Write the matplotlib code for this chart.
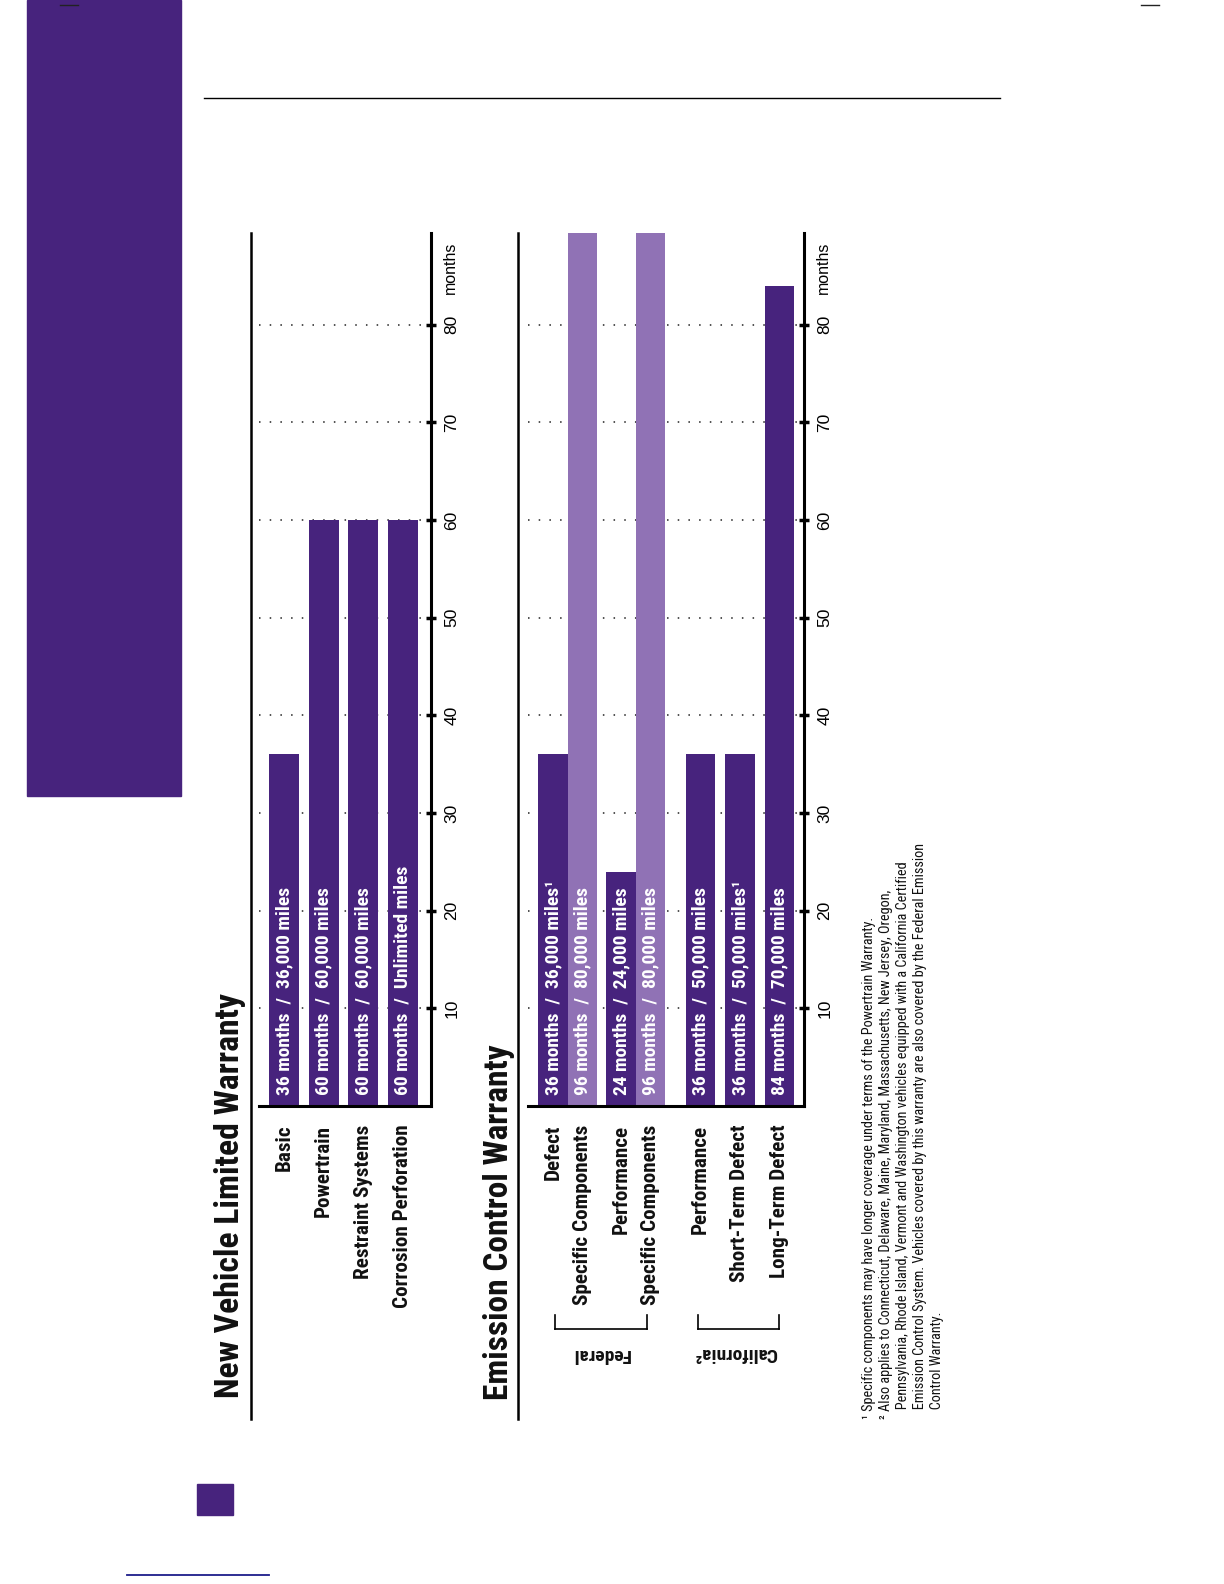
import matplotlib
matplotlib.use("Agg")
import matplotlib.pyplot as plt
from matplotlib.lines import Line2D
from matplotlib.patches import Rectangle

COND = ['Roboto Condensed', 'Archivo Narrow', 'DejaVu Sans']
plt.rcParams['font.family'] = COND

W, H = 1224, 1584
dark = "#47237d"
light = "#9072b5"

# --- data ---
nv_cats = ["Basic", "Powertrain", "Restraint Systems", "Corrosion Perforation"]
nv_months = [36, 60, 60, 60]
nv_labels = ["36 months  /  36,000 miles", "60 months  /  60,000 miles",
             "60 months  /  60,000 miles", "60 months  /  Unlimited miles"]

em_cats = ["Defect", "Specific Components", "Performance", "Specific Components",
           "Performance", "Short-Term Defect", "Long-Term Defect"]
em_months = [36, 96, 24, 96, 36, 36, 84]
em_labels = ["36 months  /  36,000 miles\u00b9", "96 months  /  80,000 miles",
             "24 months  /  24,000 miles", "96 months  /  80,000 miles",
             "36 months  /  50,000 miles", "36 months  /  50,000 miles\u00b9",
             "84 months  /  70,000 miles"]
em_light = [False, True, False, True, False, False, False]

ticks = [10, 20, 30, 40, 50, 60, 70, 80]

footnotes = [
    "\u00b9 Specific components may have longer coverage under terms of the Powertrain Warranty.",
    "\u00b2 Also applies to Connecticut, Delaware, Maine, Maryland, Massachusetts, New Jersey, Oregon,",
    "   Pennsylvania, Rhode Island, Vermont and Washington vehicles equipped with a California Certified",
    "   Emission Control System. Vehicles covered by this warranty are also covered by the Federal Emission",
    "   Control Warranty.",
]

# layout (bar slots)
nv_pos = [0, 1, 2, 3]
em_pos = [0, 1, 2.3, 3.3, 5.0, 6.33, 7.67]

fig = plt.figure(figsize=(W / 100, H / 100), dpi=100)


def fx(x):
    return x / W


def fy(y):
    return 1 - y / H


def make_axes(x0, x1, y0, y1):
    return fig.add_axes([fx(x0), fy(y1), fx(x1 - x0), (y1 - y0) / H])


def style_axes(ax, xlim):
    ax.set_xlim(*xlim)
    ax.set_ylim(0, 89.4)
    for s in ["left", "top"]:
        ax.spines[s].set_visible(False)
    ax.spines["right"].set_linewidth(2.2)
    ax.spines["bottom"].set_linewidth(2.2)
    ax.set_xticks([])
    ax.yaxis.tick_right()
    ax.set_yticks(ticks)
    ax.tick_params(axis="y", direction="inout", length=7, width=2.5,
                   labelrotation=90, labelsize=12.5, pad=6)
    for lb in ax.get_yticklabels():
        lb.set_family(["Liberation Sans", "DejaVu Sans"])
        lb.set_va("center")
    ax.yaxis.grid(True, linestyle=(0, (1, 6)), color="#222222", linewidth=1.1)
    ax.set_axisbelow(True)
    ax.annotate("months", xy=(1, 85.8), xycoords=("axes fraction", "data"),
                xytext=(14, 0), textcoords="offset points", rotation=90,
                ha="center", va="center", fontsize=11.5,
                family=["Liberation Sans", "DejaVu Sans"])


def draw_bars(ax, pos, vals, labels, cats, colors):
    ax.bar(pos, vals, width=1 if len(pos) > 4 else 0.758, color=colors, zorder=2)
    for p, lab, c in zip(pos, labels, cats):
        ax.text(p, 1.1, lab, rotation=90, ha="center", va="bottom",
                color="white", fontsize=14, fontweight="bold", zorder=3)
        ax.text(p, -1.9, c, rotation=90, ha="center", va="top",
                color="#111111", fontsize=15.2, fontweight="bold", clip_on=False)


# chart 1
ax1 = make_axes(259, 431, 233, 1106)
style_axes(ax1, (-0.631, 3.712))
draw_bars(ax1, nv_pos, nv_months, nv_labels, nv_cats, [dark] * 4)

# chart 2
ax2 = make_axes(528, 804, 233, 1106)
style_axes(ax2, (-0.85, 8.5))
draw_bars(ax2, em_pos, em_months, em_labels, em_cats,
          [light if l else dark for l in em_light])

# page decorations
fig.patches.append(Rectangle((fx(27), fy(796)), fx(154), 796 / H, color=dark,
                             transform=fig.transFigure, zorder=0))
fig.patches.append(Rectangle((fx(197), fy(1515)), fx(36), 31 / H, color=dark,
                             transform=fig.transFigure, zorder=0))


def hline(x0, x1, y, lw=1.0, color="black"):
    fig.add_artist(Line2D([fx(x0), fx(x1)], [fy(y), fy(y)], lw=lw, color=color))


def vline(x, y0, y1, lw=1.0, color="black"):
    fig.add_artist(Line2D([fx(x), fx(x)], [fy(y0), fy(y1)], lw=lw, color=color))


hline(204, 1000, 98, lw=1.0)
hline(60, 78, 5, lw=1.0, color="#222222")
hline(1141, 1159, 5, lw=1.0, color="#222222")
hline(127, 269, 1575, lw=1.3, color="#1c1c8a")

vline(251, 233, 1419, lw=1.8)
vline(518, 233, 1419, lw=1.8)

# brackets
for x0, x1 in [(555, 647), (698, 779)]:
    hline(x0, x1, 1329, lw=1.2)
    vline(x0, 1315, 1329, lw=1.2)
    vline(x1, 1315, 1329, lw=1.2)

fig.text(fx(601), fy(1354), "Federal", rotation=180, ha="center", va="center",
         fontsize=14, fontweight="bold", color="#111111")
fig.text(fx(735), fy(1353), "California\u00b2", rotation=180, ha="center", va="center",
         fontsize=14, fontweight="bold", color="#111111")

# titles
fig.text(fx(229.5), fy(1398), "New Vehicle Limited Warranty", rotation=90,
         ha="center", va="bottom", fontsize=24.2, fontweight="bold", color="#111111")
fig.text(fx(499), fy(1400), "Emission Control Warranty", rotation=90,
         ha="center", va="bottom", fontsize=24, fontweight="bold", color="#111111")

# footnotes
for i, line in enumerate(footnotes):
    fig.text(fx(869 + i * 17), fy(1419), line, rotation=90, ha="center", va="bottom",
             fontsize=10.3, color="#111111")

fig.savefig("out.png", dpi=100)
